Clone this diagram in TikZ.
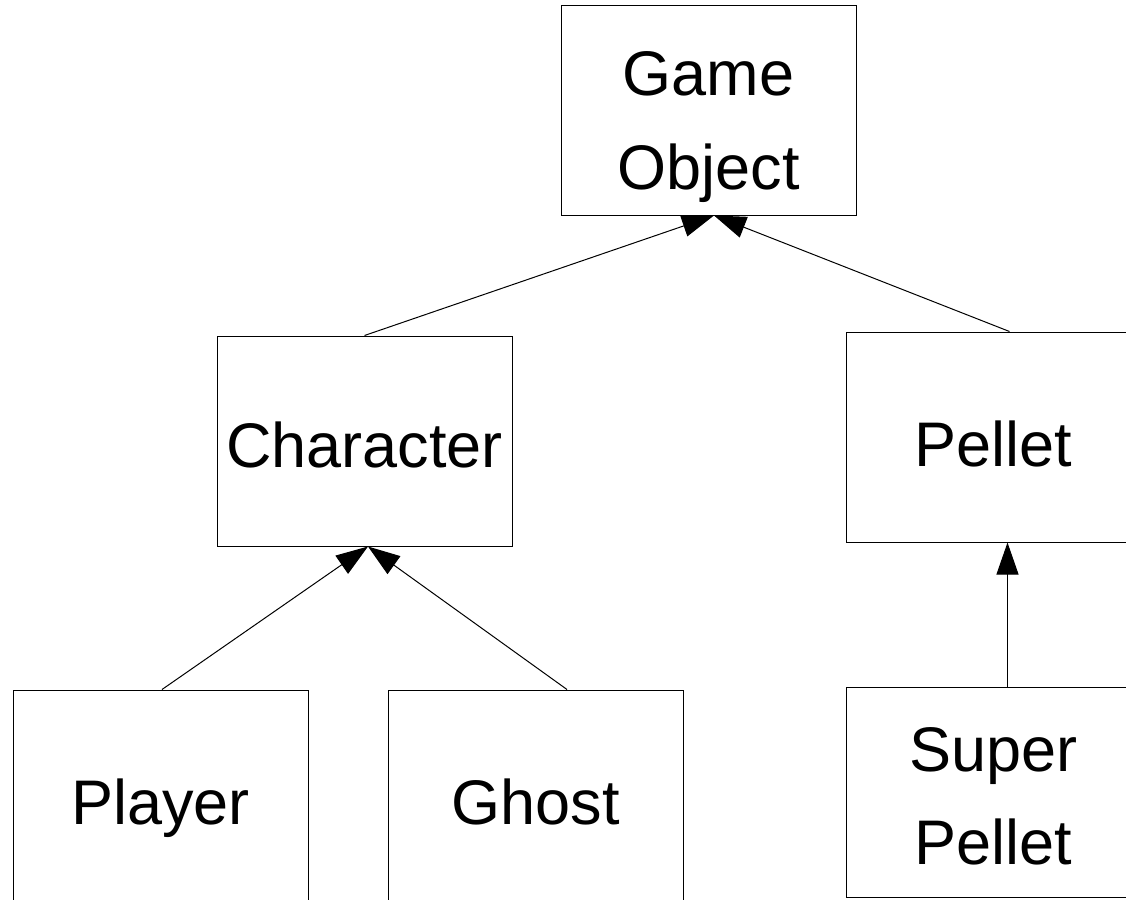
\documentclass[tikz,border=0pt]{standalone}
\usepackage{fontspec}
\setmainfont{Liberation Sans}
\usetikzlibrary{arrows.meta}
\begin{document}
\begin{tikzpicture}[x=0.5pt,y=-0.5pt,
  box/.style={draw=black, line width=0.5pt, minimum width=147.5pt, minimum height=105pt, inner sep=0pt},
  lbl/.style={anchor=base, inner sep=0pt, font=\fontsize{31.5pt}{47pt}\selectfont},
  inh/.style={-{Triangle[length=16pt,width=11pt]}, line width=0.5pt}]
\useasboundingbox (0,0) rectangle (1126,900);
\clip (0,0) rectangle (1126,900);
% boxes
\node[box] (go) at (708.5,110) {};
\node[box] (char) at (364.5,441) {};
\node[box] (pel) at (993.5,437) {};
\node[box] (pl) at (160.5,795) {};
\node[box] (gh) at (535.5,795) {};
\node[box] (sp) at (993.5,792) {};
% texts
\node[lbl] (goa) at (708.5,95) {Game};
\node[lbl] (gob) at (708.5,189) {Object};
\node[lbl] (chart) at (364.5,467) {Character};
\node[lbl] (pelt) at (993.5,466) {Pellet};
\node[lbl] (plt) at (160.5,824) {Player};
\node[lbl] (ght) at (535.5,824) {Ghost};
\node[lbl] (spa) at (993.5,771) {Super};
\node[lbl] (spb) at (993.5,864) {Pellet};
% connectors
\draw[inh] (char.north) -- ([xshift=2.75pt]go.south);
\draw[inh] ([xshift=8pt]pel.north) -- ([xshift=2.75pt]go.south);
\draw[inh] ([xshift=0.75pt]pl.north) -- ([xshift=1.75pt]char.south);
\draw[inh] ([xshift=15.75pt]gh.north) -- ([xshift=1.75pt]char.south);
\draw[inh] ([xshift=7pt]sp.north) -- ([xshift=7pt]pel.south);
\end{tikzpicture}
\end{document}
